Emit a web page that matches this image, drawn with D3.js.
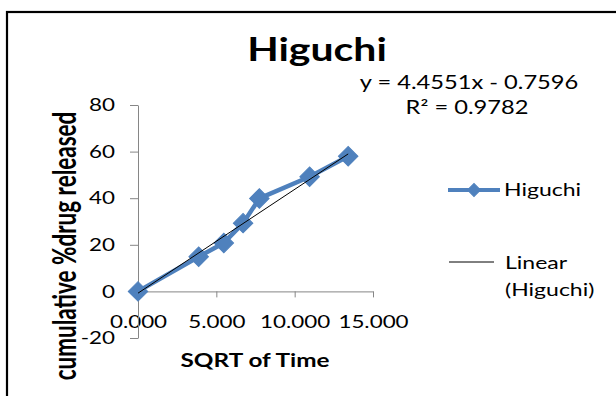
<!DOCTYPE html>
<html>
<head>
<meta charset="utf-8">
<script src="https://cdn.jsdelivr.net/npm/d3@7"></script>
<style>
  body { margin: 0; background: #fff; }
  text { font-family: Lato, "Open Sans", sans-serif; fill: #000; }
</style>
</head>
<body>
<div id="chart"></div>
<script>
// data
const sqrtTime = [0, 3.873, 5.477, 6.708, 7.746, 10.954, 13.416];
const released = [0, 14.9, 20.8, 29.3, 39.9, 49.2, 58.0];
const xTicks = [0, 5, 10, 15];
const yTicks = [-20, 0, 20, 40, 60, 80];
const slope = 4.4551;
const intercept = -0.7596;
const rSquared = 0.9782;

//------------------------1. PREPARATION------------------------//
const width = 616;
const height = 396;
const SX = 1.28;        // the original picture is stretched sideways
const blue = "#4F81BD";
const axisGrey = "#868686";

const svg = d3.select("#chart").append("svg")
  .attr("width", width)
  .attr("height", height);

// outer frame of the chart area
svg.append("rect")
  .attr("x", 7).attr("y", 12)
  .attr("width", 640).attr("height", 420)
  .attr("fill", "none")
  .attr("stroke", "#000")
  .attr("stroke-width", 2.2);

// helper: stretched text
function label(x, y, txt, size, opts = {}) {
  const sx = opts.sx || SX;
  const t = svg.append("text")
    .attr("transform", "translate(" + x + "," + y + ") scale(" + sx + ",1)"
      + (opts.rotate ? " rotate(" + opts.rotate + ")" : ""))
    .style("font-size", size + "px")
    .style("font-weight", opts.bold ? "bold" : "normal")
    .attr("text-anchor", opts.anchor || "start")
    .text(txt);
  return t;
}

//----------------------------SCALES----------------------------//
const xScale = d3.scaleLinear().domain([0, 15]).range([138, 373]);
const yScale = d3.scaleLinear().domain([-20, 80]).range([338, 105]);

//-----------------------------AXES-----------------------------//
const xaxis = d3.axisBottom(xScale)
  .tickValues(xTicks)
  .tickFormat(d3.format(".3f"))
  .tickSize(6)
  .tickSizeOuter(0)
  .tickPadding(18);

const yaxis = d3.axisLeft(yScale)
  .tickValues(yTicks)
  .tickFormat(d => String(d))
  .tickSize(8)
  .tickSizeOuter(0)
  .tickPadding(15);

const gx = svg.append("g")
  .attr("transform", "translate(0," + yScale(0) + ")")
  .call(xaxis);

const gy = svg.append("g")
  .attr("transform", "translate(" + xScale(0) + ",0)")
  .call(yaxis);

[gx, gy].forEach(g => {
  g.select(".domain").attr("stroke", axisGrey).attr("stroke-width", 1);
  g.selectAll(".tick line").attr("stroke", axisGrey);
  g.selectAll(".tick text")
    .attr("fill", "#000")
    .style("font-family", "Lato, 'Open Sans', sans-serif")
    .style("font-size", "17.5px");
});
gx.selectAll(".tick text").attr("transform", "scale(" + SX + ",1)");
gy.selectAll(".tick text")
  .attr("x", -23 / SX)
  .attr("transform", "scale(" + SX + ",1)");

//----------------------------LINES-----------------------------//
const points = sqrtTime.map((x, i) => ({ x: x, y: released[i] }));

const line = d3.line()
  .x(d => xScale(d.x))
  .y(d => yScale(d.y));

svg.append("path")
  .attr("d", line(points))
  .attr("fill", "none")
  .attr("stroke", blue)
  .attr("stroke-width", 4.5)
  .attr("stroke-linejoin", "round");

const diamond = d3.symbol().type(d3.symbolSquare).size(190);
const legendDiamond = d3.symbol().type(d3.symbolSquare).size(85);

svg.selectAll(".marker")
  .data(points)
  .enter()
  .append("path")
  .attr("class", "marker")
  .attr("d", diamond)
  .attr("transform", d => "translate(" + xScale(d.x) + "," + yScale(d.y) + ") rotate(45)")
  .attr("fill", blue)
  .attr("stroke", blue);

// linear trendline over the data range
const trend = d3.extent(sqrtTime).map(x => ({ x: x, y: slope * x + intercept }));
svg.append("path")
  .attr("d", line(trend))
  .attr("fill", "none")
  .attr("stroke", "#000")
  .attr("stroke-width", 1);

//----------------------------TEXTS-----------------------------//
label(317, 61, "Higuchi", 32, { bold: true, anchor: "middle" });
label(469, 89, "y = " + slope + "x - " + Math.abs(intercept), 18.5, { anchor: "middle" });
label(467, 114, "R² = " + rSquared, 18.5, { anchor: "middle" });

label(255, 367, "SQRT of Time", 19, { bold: true, anchor: "middle" });
label(76, 246, "cumulative %drug released", 22.5, { bold: true, anchor: "middle", rotate: -90, sx: 1.45 });

//----------------------------LEGEND----------------------------//
svg.append("line")
  .attr("x1", 448).attr("x2", 500)
  .attr("y1", 190).attr("y2", 190)
  .attr("stroke", blue).attr("stroke-width", 4);
svg.append("path")
  .attr("d", legendDiamond)
  .attr("transform", "translate(474,190) rotate(45)")
  .attr("fill", blue)
  .attr("stroke", blue);
label(504, 196, "Higuchi", 18);

svg.append("line")
  .attr("x1", 449).attr("x2", 494)
  .attr("y1", 262).attr("y2", 262)
  .attr("stroke", "#000").attr("stroke-width", 1);
label(505, 269, "Linear", 18);
label(505, 296, "(Higuchi)", 18);
</script>
</body>
</html>
